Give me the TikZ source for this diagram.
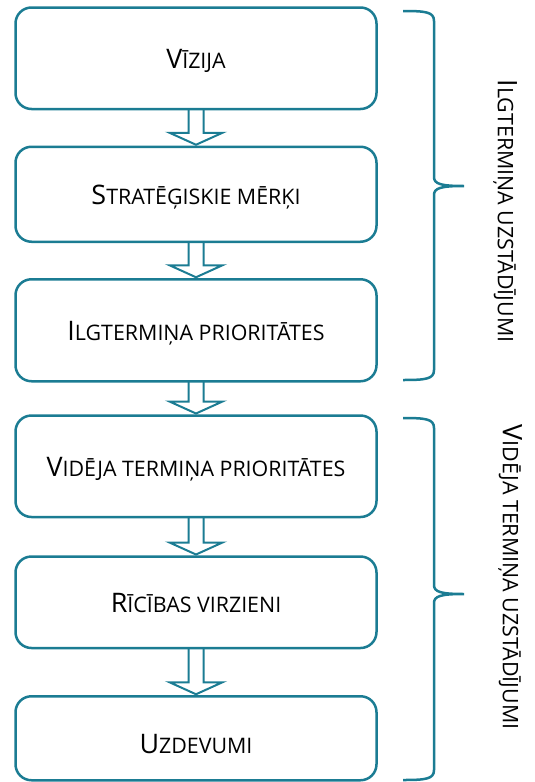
\documentclass[tikz,border=0pt]{standalone}
\usepackage{fontspec}
\setmainfont{Open Sans}
\usepackage{tikz}
\usetikzlibrary{calc}
\usetikzlibrary{positioning}

\definecolor{tealc}{HTML}{1B7C93}

% fake small caps: first letter big, rest smaller capitals
\newcommand{\capfirst}[2]{{\fontsize{26.9}{31}\selectfont #1}{\fontsize{21.4}{26}\selectfont #2}}

% hollow block arrow from one stage down to the next
\newcommand{\stagearrow}[2]{%
  \draw[arr] ($(#1.south)+(-7.5,0)$) -- ($(#2.north)+(-7.5,14)$) -- ($(#2.north)+(-26.5,14)$)
    -- ($(#2.north)+(0,2)$) -- ($(#2.north)+(26.5,14)$) -- ($(#2.north)+(7.5,14)$) -- ($(#1.south)+(7.5,0)$);}

% right brace: top, tip, bottom (y values)
\newcommand{\sidebrace}[3]{%
  \draw[bracket] (403,#1) .. controls (426,#1) and (434,#1-1) .. (434,#1-10) -- (434,#2+9)
    .. controls (434,#2+2) and (441,#2) .. (464,#2)
    .. controls (441,#2) and (434,#2-2) .. (434,#2-9) -- (434,#3+10)
    .. controls (434,#3+1) and (426,#3) .. (403,#3);}

\begin{document}
\begin{tikzpicture}[x=1pt,y=1pt,node distance=136pt]
  \tikzstyle{stage}=[draw=tealc, line width=2.5pt, rounded corners=16pt, minimum width=361pt,
    text height=21pt, text depth=0pt, inner sep=0pt, outer sep=0pt]
  \tikzstyle{arr}=[draw=tealc, line width=2pt, line join=miter]
  \tikzstyle{bracket}=[draw=tealc, line width=2.5pt]
  \tikzstyle{side}=[rotate=-90, inner sep=0pt]

  \useasboundingbox (0,0) rectangle (535,-782);

  \node[stage, minimum height=101.5pt] (vision) at (196,-58.25) {\capfirst{V}{ĪZIJA}};
  \node[stage, minimum height=95pt] (goals) [below of=vision] {\capfirst{S}{TRATĒĢISKIE MĒRĶI}};
  \node[stage, minimum height=102pt] (longprio) [below of=goals] {\capfirst{I}{LGTERMIŅA PRIORITĀTES}};
  \node[stage, minimum height=101.5pt] (midprio) [below of=longprio] {\capfirst{V}{IDĒJA TERMIŅA PRIORITĀTES}};
  \node[stage, minimum height=91.5pt] (actions) [below of=midprio] {\capfirst{R}{ĪCĪBAS VIRZIENI}};
  \node[stage, minimum height=84pt, text height=31pt] (tasks) [below of=actions] {\capfirst{U}{ZDEVUMI}};

  \stagearrow{vision}{goals}
  \stagearrow{goals}{longprio}
  \stagearrow{longprio}{midprio}
  \stagearrow{midprio}{actions}
  \stagearrow{actions}{tasks}

  \sidebrace{-11}{-186}{-380}
  \sidebrace{-418}{-594}{-780}

  \node[side] (longterm) at (505,-211) {\capfirst{I}{LGTERMIŅA UZSTĀDĪJUMI}};
  \node[side] (midterm) at (510,-577) {\capfirst{V}{IDĒJA TERMIŅA UZSTĀDĪJUMI}};
\end{tikzpicture}
\end{document}
